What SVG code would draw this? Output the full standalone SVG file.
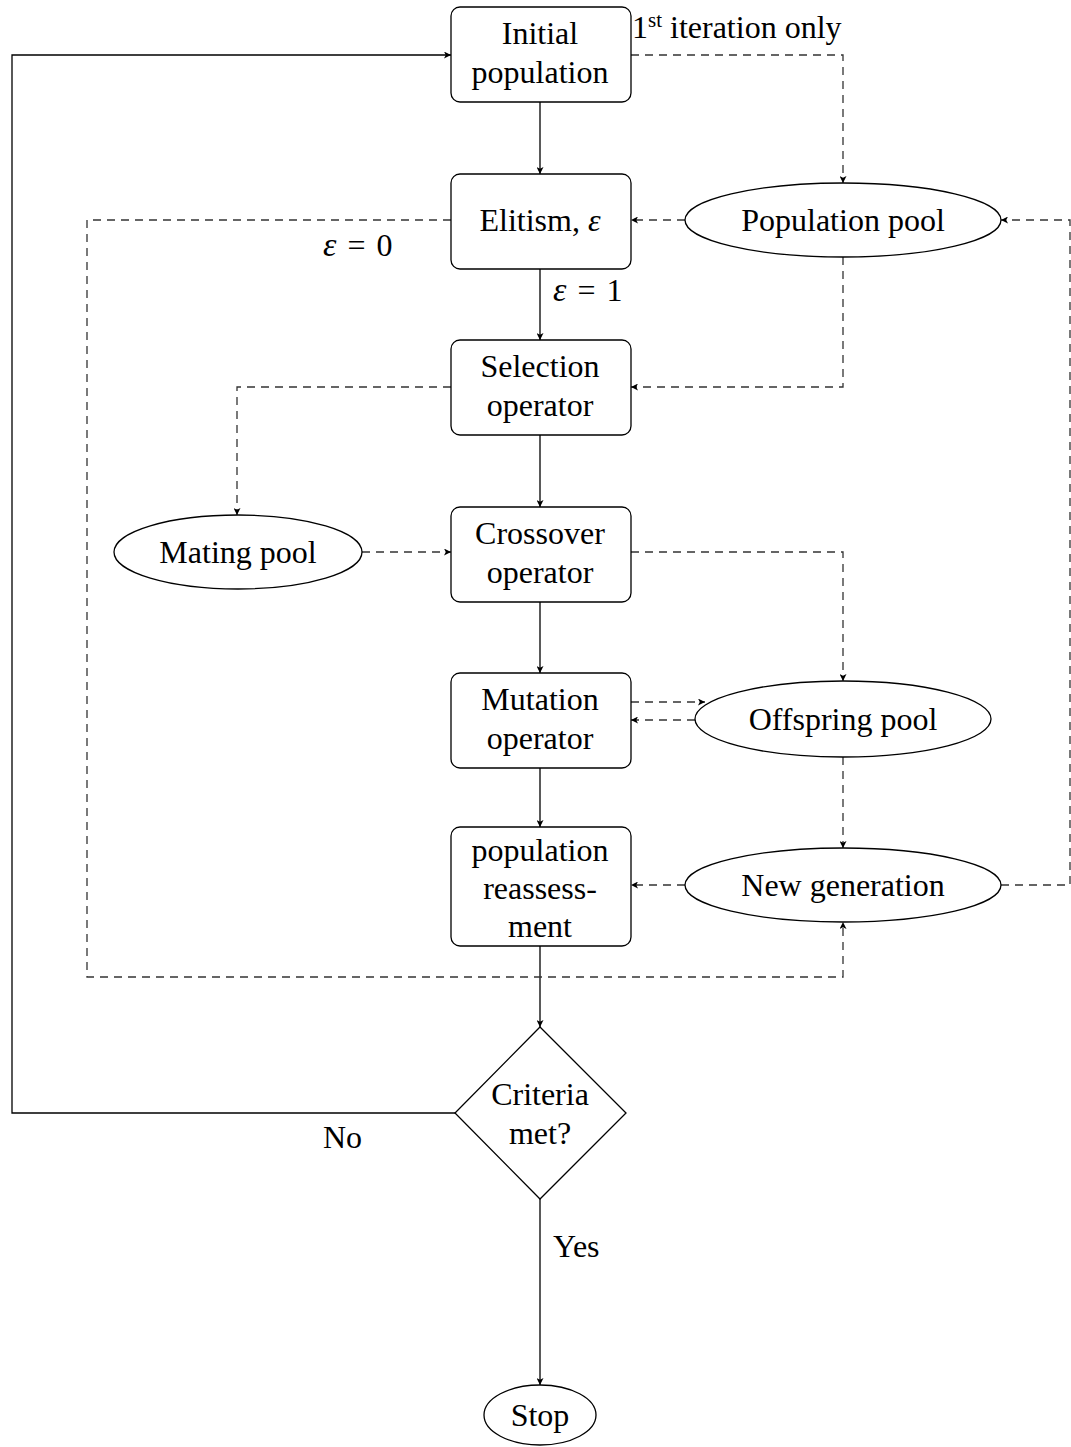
<svg xmlns="http://www.w3.org/2000/svg" width="1071" height="1447" viewBox="0 0 1071 1447">
<defs>
<style>
.box{fill:#fff;stroke:#000;stroke-width:1.3}
.el{fill:#fff;stroke:#000;stroke-width:1.3}
.s{fill:none;stroke:#000;stroke-width:1.3}
.d{fill:none;stroke:#333;stroke-width:1.3;stroke-dasharray:8,6}
text{font-family:"Liberation Serif","Times New Roman",serif;font-size:32px;fill:#000}
.c{text-anchor:middle}
.i{font-style:italic}
</style>
<marker id="a" viewBox="0 0 10 10" refX="10" refY="5" markerWidth="7" markerHeight="7" markerUnits="userSpaceOnUse" orient="auto">
<path d="M0,0 L10,5 L0,10 L2.5,5 Z" fill="#000"/>
</marker>
</defs>
<rect width="1071" height="1447" fill="#fff"/>
<g id="connectors">
<line class="s" x1="540" y1="102" x2="540" y2="174" marker-end="url(#a)"/>
<line class="s" x1="540" y1="269" x2="540" y2="340" marker-end="url(#a)"/>
<line class="s" x1="540" y1="435" x2="540" y2="507" marker-end="url(#a)"/>
<line class="s" x1="540" y1="602" x2="540" y2="673" marker-end="url(#a)"/>
<line class="s" x1="540" y1="768" x2="540" y2="827" marker-end="url(#a)"/>
<line class="s" x1="540" y1="946" x2="540" y2="1027" marker-end="url(#a)"/>
<line class="s" x1="540" y1="1199" x2="540" y2="1385" marker-end="url(#a)"/>
<polyline class="s" points="455,1113 12,1113 12,55 451,55" marker-end="url(#a)"/>
<polyline class="d" points="631,55 843,55 843,183" marker-end="url(#a)"/>
<line class="d" x1="685" y1="220" x2="631" y2="220" marker-end="url(#a)"/>
<polyline class="d" points="843,257 843,387 631,387" marker-end="url(#a)"/>
<polyline class="d" points="451,220 87,220 87,977 843,977 843,922" marker-end="url(#a)"/>
<polyline class="d" points="451,387 237,387 237,515" marker-end="url(#a)"/>
<line class="d" x1="362" y1="552" x2="451" y2="552" marker-end="url(#a)"/>
<polyline class="d" points="631,552 843,552 843,681" marker-end="url(#a)"/>
<line class="d" x1="631" y1="702" x2="705" y2="702" marker-end="url(#a)"/>
<line class="d" x1="695" y1="720" x2="631" y2="720" marker-end="url(#a)"/>
<line class="d" x1="843" y1="757" x2="843" y2="848" marker-end="url(#a)"/>
<line class="d" x1="685" y1="885" x2="631" y2="885" marker-end="url(#a)"/>
<polyline class="d" points="1001,885 1070,885 1070,220 1001,220" marker-end="url(#a)"/>
</g>
<g id="labels">
<text x="632" y="38">1<tspan font-size="21" dy="-11">st</tspan><tspan dy="11"> iteration only</tspan></text>
<text x="323" y="256"><tspan class="i" font-size="34">ε</tspan><tspan dx="11">=</tspan><tspan dx="11">0</tspan></text>
<text x="553" y="301"><tspan class="i" font-size="34">ε</tspan><tspan dx="11">=</tspan><tspan dx="11">1</tspan></text>
<text x="323" y="1148">No</text>
<text x="553" y="1257">Yes</text>
</g>
<g id="initial"><rect class="box" x="451" y="7" width="180" height="95" rx="9"/><text class="c" x="540" y="44">Initial</text><text class="c" x="540" y="83">population</text></g>
<g id="elitism"><rect class="box" x="451" y="174" width="180" height="95" rx="9"/><text class="c" x="540" y="231">Elitism, <tspan class="i">ε</tspan></text></g>
<g id="selection"><rect class="box" x="451" y="340" width="180" height="95" rx="9"/><text class="c" x="540" y="377">Selection</text><text class="c" x="540" y="416">operator</text></g>
<g id="crossover"><rect class="box" x="451" y="507" width="180" height="95" rx="9"/><text class="c" x="540" y="544">Crossover</text><text class="c" x="540" y="583">operator</text></g>
<g id="mutation"><rect class="box" x="451" y="673" width="180" height="95" rx="9"/><text class="c" x="540" y="710">Mutation</text><text class="c" x="540" y="749">operator</text></g>
<g id="reassessment"><rect class="box" x="451" y="827" width="180" height="119" rx="9"/><text class="c" x="540" y="861">population</text><text class="c" x="540" y="899">reassess-</text><text class="c" x="540" y="937">ment</text></g>
<g id="popPool"><ellipse class="el" cx="843" cy="220" rx="158" ry="37"/><text class="c" x="843" y="231">Population pool</text></g>
<g id="matingPool"><ellipse class="el" cx="238" cy="552" rx="124" ry="37"/><text class="c" x="238" y="563">Mating pool</text></g>
<g id="offspringPool"><ellipse class="el" cx="843" cy="719" rx="148" ry="38"/><text class="c" x="843" y="730">Offspring pool</text></g>
<g id="newGen"><ellipse class="el" cx="843" cy="885" rx="158" ry="37"/><text class="c" x="843" y="896">New generation</text></g>
<g id="criteria"><polygon class="box" points="540,1027 626,1113 540,1199 455,1113"/><text class="c" x="540" y="1105">Criteria</text><text class="c" x="540" y="1144">met?</text></g>
<g id="stop"><ellipse class="el" cx="540" cy="1415" rx="56" ry="30"/><text class="c" x="540" y="1426">Stop</text></g>
</svg>
